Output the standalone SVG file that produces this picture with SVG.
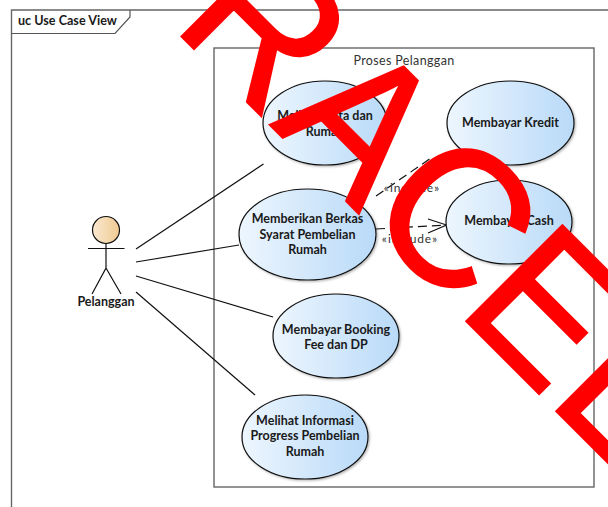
<svg xmlns="http://www.w3.org/2000/svg" width="608" height="507" viewBox="0 0 608 507">
<style>
.frame{fill:none;stroke:#666;stroke-width:1.4}
.uc{fill:url(#ug);stroke:#111;stroke-width:1.2;filter:url(#sh)}
.lab{font-family:"Lato","Liberation Sans",sans-serif;font-weight:700;font-size:12.5px;fill:#1a1a1a;text-anchor:middle}
.inc{font-family:"Lato","Liberation Sans",sans-serif;font-size:12px;fill:#333;text-anchor:middle;letter-spacing:.9px}
.ln{fill:none;stroke:#111;stroke-width:1.2}
.dash{stroke-dasharray:9 5}
.wm{font-family:"Liberation Sans",sans-serif;font-size:190px;fill:#f00;stroke:#f00;stroke-width:2}
</style>
<defs>
<linearGradient id="ug" x1="0" x2="1" y1="0" y2="0"><stop offset="0" stop-color="#edf6fe"/><stop offset="1" stop-color="#b9daf8"/></linearGradient>
<linearGradient id="ag" x1="0" x2="1" y1="0" y2="0"><stop offset="0" stop-color="#fae8d0"/><stop offset="1" stop-color="#efca92"/></linearGradient>
<filter id="sh" x="-5%" y="-5%" width="112%" height="112%"><feDropShadow dx="1.2" dy="1.2" stdDeviation="1" flood-color="#000" flood-opacity=".3"/></filter>
</defs>
<rect width="608" height="507" fill="#fff"/>
<g id="frame">
<path class="frame" d="M608 10H11.5V507"/>
<path d="M11.5 33.5H115L130 17V10" fill="none" stroke="#555" stroke-width="1.2"/>
<text x="18" y="25" style="font-family:'Lato','Liberation Sans',sans-serif;font-weight:700;font-size:12.6px;fill:#1a1a1a">uc Use Case View</text>
</g>
<g id="system">
<rect x="214" y="48" width="380" height="439" fill="none" stroke="#666" stroke-width="1.4"/>
<text x="404" y="65" style="font-family:'Lato','Liberation Sans',sans-serif;font-size:12.5px;fill:#333;text-anchor:middle;letter-spacing:.35px">Proses Pelanggan</text>
</g>
<g id="connectors">
<path class="ln" d="M136 249L263.5 164"/>
<path class="ln" d="M136 262L239 245"/>
<path class="ln" d="M136 276L273 317"/>
<path class="ln" d="M136 292L255 395"/>
<path class="ln dash" d="M376 196L431 158"/>
<path class="ln dash" d="M376 229L446 225"/>
<path class="ln" d="M428 219L446.5 225L428 233"/>
<text class="inc" x="412" y="192">«include»</text>
<text class="inc" x="410" y="243">«include»</text>
</g>
<g id="actor">
<circle cx="106" cy="230" r="13.5" fill="url(#ag)" stroke="#111" stroke-width="1.2"/>
<path class="ln" d="M88 248.5H124.5M106 243.5V268L92 294M106 268L121 294"/>
<text class="lab" x="106" y="306">Pelanggan</text>
</g>
<g id="uc1"><ellipse class="uc" cx="325" cy="123" rx="62" ry="42"/><text class="lab" x="325" y="120">Melihat Data dan</text><text class="lab" x="325" y="136">Rumah</text></g>
<g id="uc2"><ellipse class="uc" cx="307.5" cy="234.5" rx="68.5" ry="45.5"/><text class="lab" x="307.5" y="223">Memberikan Berkas</text><text class="lab" x="307.5" y="239">Syarat Pembelian</text><text class="lab" x="307.5" y="254">Rumah</text></g>
<g id="uc3"><ellipse class="uc" cx="510.5" cy="123" rx="63.5" ry="42"/><text class="lab" x="510.5" y="127">Membayar Kredit</text></g>
<g id="uc4"><ellipse class="uc" cx="509" cy="222" rx="63" ry="42"/><text class="lab" x="509" y="225">Membayar Cash</text></g>
<g id="uc5"><ellipse class="uc" cx="336" cy="336" rx="63" ry="42"/><text class="lab" x="336" y="334">Membayar Booking</text><text class="lab" x="336" y="349">Fee dan DP</text></g>
<g id="uc6"><ellipse class="uc" cx="305" cy="437" rx="63" ry="42"/><text class="lab" x="305" y="425">Melihat Informasi</text><text class="lab" x="305" y="440">Progress Pembelian</text><text class="lab" x="305" y="456">Rumah</text></g>
<g id="watermark"><text class="wm" transform="translate(350,205) rotate(45) scale(1,1.04)" x="-254 -114 14 149 276">RACEE</text></g>
</svg>
